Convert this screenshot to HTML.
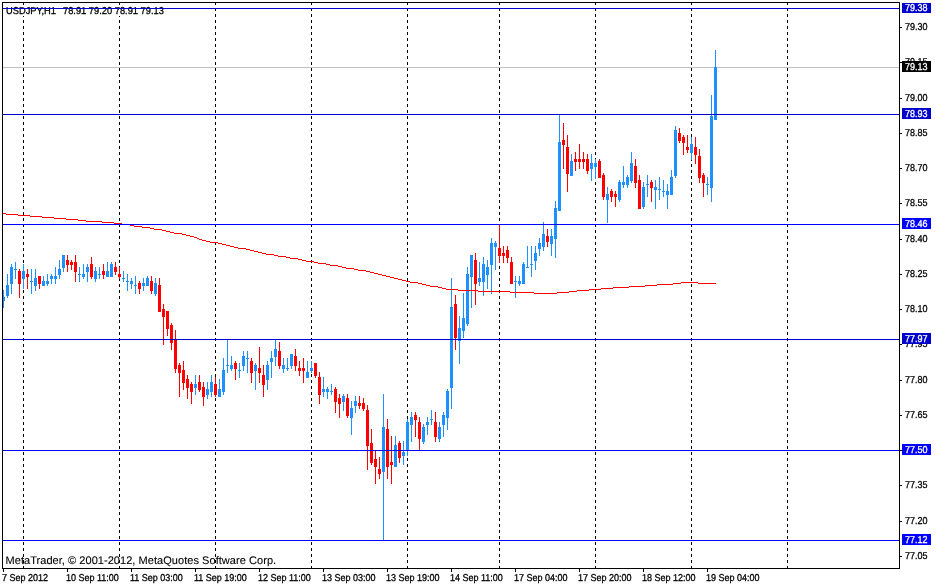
<!DOCTYPE html>
<html><head><meta charset="utf-8"><title>USDJPY H1</title>
<style>
html,body{margin:0;padding:0;background:#fff;}
body{width:937px;height:585px;position:relative;overflow:hidden;font-family:"Liberation Sans",sans-serif;color:#000;text-rendering:geometricPrecision;-webkit-text-stroke:0.3px currentColor;}
svg{position:absolute;left:0;top:0;}
.t{position:absolute;white-space:nowrap;}
.title{left:6.4px;top:5px;height:11px;overflow:hidden;background:#fff;font-size:10px;line-height:14px;transform-origin:0 0;transform:scaleX(0.93);}
.copy{left:5.5px;top:554px;font-size:11px;line-height:14px;letter-spacing:0.05px;-webkit-text-stroke:0.1px currentColor;}
.pl{position:absolute;left:904.5px;font-size:10px;line-height:13px;white-space:nowrap;transform-origin:0 0;transform:scaleX(0.9);}
.tl{position:absolute;top:572px;font-size:10px;line-height:13px;white-space:nowrap;transform-origin:0 0;transform:scaleX(0.9);}
.bx{position:absolute;left:902px;width:29px;}
.w{color:#fff;}
</style></head><body>
<svg width="937" height="585" viewBox="0 0 937 585" shape-rendering="crispEdges">
<path d="M23.5 2V568 M119.5 2V568 M215.5 2V568 M311.5 2V568 M407.5 2V568 M499.5 2V568 M595.5 2V568 M691.5 2V568 M787.5 2V568" stroke="#000" stroke-width="1" stroke-dasharray="3 3" fill="none"/>
<rect x="3" y="67" width="896" height="1" fill="#C0C0C0"/>
<path d="M3 290h1V308h-1z M2 297h3V301h-3z M7 274h1V298h-1z M6 285h3V296h-3z M11 264h1V294h-1z M10 267h3V284h-3z M15 262h1V279h-1z M14 269h3V270h-3z M23 264h1V289h-1z M22 271h3V279h-3z M31 269h1V294h-1z M30 281h3V282h-3z M35 269h1V291h-1z M34 278h3V286h-3z M43 276h1V286h-1z M42 281h3V286h-3z M47 274h1V286h-1z M46 281h3V284h-3z M51 274h1V284h-1z M50 276h3V279h-3z M55 267h1V284h-1z M54 276h3V279h-3z M59 260h1V279h-1z M58 269h3V275h-3z M63 255h1V272h-1z M62 255h3V268h-3z M79 267h1V282h-1z M78 274h3V275h-3z M83 264h1V279h-1z M82 274h3V277h-3z M87 264h1V282h-1z M86 267h3V272h-3z M95 267h1V282h-1z M94 271h3V279h-3z M99 267h1V279h-1z M98 274h3V275h-3z M107 262h1V277h-1z M106 271h3V277h-3z M111 262h1V277h-1z M110 264h3V277h-3z M123 271h1V282h-1z M122 278h3V279h-3z M127 274h1V291h-1z M126 281h3V282h-3z M131 278h1V289h-1z M130 281h3V284h-3z M135 276h1V294h-1z M134 285h3V286h-3z M143 278h1V291h-1z M142 283h3V286h-3z M147 276h1V286h-1z M146 278h3V286h-3z M155 278h1V296h-1z M154 283h3V294h-3z M195 375h1V395h-1z M194 384h3V388h-3z M207 382h1V399h-1z M206 389h3V395h-3z M211 375h1V397h-1z M210 382h3V392h-3z M219 379h1V397h-1z M218 389h3V397h-3z M223 358h1V395h-1z M222 370h3V392h-3z M227 340h1V373h-1z M226 365h3V366h-3z M231 356h1V371h-1z M230 365h3V369h-3z M239 363h1V378h-1z M238 370h3V371h-3z M243 351h1V371h-1z M242 356h3V366h-3z M247 351h1V373h-1z M246 358h3V359h-3z M255 363h1V390h-1z M254 365h3V371h-3z M267 361h1V390h-1z M266 365h3V380h-3z M271 351h1V378h-1z M270 358h3V362h-3z M275 340h1V366h-1z M274 349h3V357h-3z M283 358h1V373h-1z M282 365h3V369h-3z M287 358h1V371h-1z M286 368h3V369h-3z M291 354h1V369h-1z M290 354h3V366h-3z M307 361h1V378h-1z M306 372h3V378h-3z M311 361h1V373h-1z M310 368h3V371h-3z M323 377h1V397h-1z M322 389h3V392h-3z M327 387h1V399h-1z M326 389h3V392h-3z M331 384h1V395h-1z M330 391h3V392h-3z M343 394h1V411h-1z M342 396h3V402h-3z M351 401h1V435h-1z M350 408h3V418h-3z M355 396h1V413h-1z M354 401h3V406h-3z M383 394h1V541h-1z M382 427h3V472h-3z M395 436h1V467h-1z M394 445h3V467h-3z M403 441h1V465h-1z M402 452h3V456h-3z M407 419h1V456h-1z M406 422h3V451h-3z M411 412h1V442h-1z M410 417h3V425h-3z M423 424h1V444h-1z M422 427h3V442h-3z M427 417h1V435h-1z M426 422h3V425h-3z M431 410h1V425h-1z M430 419h3V420h-3z M439 422h1V442h-1z M438 427h3V439h-3z M443 412h1V437h-1z M442 415h3V425h-3z M447 389h1V430h-1z M446 391h3V418h-3z M451 278h1V409h-1z M450 307h3V388h-3z M459 316h1V364h-1z M458 328h3V341h-3z M463 293h1V338h-1z M462 318h3V331h-3z M467 267h1V326h-1z M466 274h3V324h-3z M471 255h1V308h-1z M470 255h3V277h-3z M479 262h1V286h-1z M478 278h3V282h-3z M483 257h1V296h-1z M482 264h3V282h-3z M487 260h1V289h-1z M486 267h3V275h-3z M491 238h1V294h-1z M490 243h3V265h-3z M495 241h1V270h-1z M494 243h3V247h-3z M515 276h1V298h-1z M514 281h3V282h-3z M519 276h1V286h-1z M518 281h3V284h-3z M523 262h1V284h-1z M522 264h3V284h-3z M527 246h1V268h-1z M526 267h3V268h-3z M531 246h1V277h-1z M530 264h3V265h-3z M535 246h1V270h-1z M534 253h3V261h-3z M539 238h1V256h-1z M538 243h3V249h-3z M543 222h1V251h-1z M542 234h3V247h-3z M551 229h1V256h-1z M550 236h3V244h-3z M555 201h1V258h-1z M554 208h3V239h-3z M559 114h1V211h-1z M558 142h3V211h-3z M571 154h1V176h-1z M570 161h3V176h-3z M591 154h1V181h-1z M590 163h3V169h-3z M595 159h1V179h-1z M594 163h3V167h-3z M607 187h1V223h-1z M606 194h3V200h-3z M619 180h1V202h-1z M618 182h3V200h-3z M623 166h1V188h-1z M622 182h3V185h-3z M627 175h1V188h-1z M626 177h3V185h-3z M631 152h1V183h-1z M630 163h3V181h-3z M643 182h1V209h-1z M642 187h3V207h-3z M647 175h1V197h-1z M646 184h3V185h-3z M655 180h1V209h-1z M654 187h3V190h-3z M659 177h1V200h-1z M658 189h3V190h-3z M663 180h1V197h-1z M662 191h3V192h-3z M667 184h1V209h-1z M666 191h3V195h-3z M671 170h1V195h-1z M670 177h3V195h-3z M675 126h1V178h-1z M674 130h3V176h-3z M691 137h1V160h-1z M690 144h3V153h-3z M707 177h1V195h-1z M706 184h3V185h-3z M711 95h1V202h-1z M710 116h3V188h-3z M715 50h1V120h-1z M714 67h3V120h-3z" fill="#1E90FF"/>
<path d="M19 269h1V298h-1z M18 271h3V284h-3z M27 269h1V289h-1z M26 274h3V277h-3z M39 276h1V289h-1z M38 276h3V284h-3z M67 255h1V272h-1z M66 260h3V265h-3z M71 260h1V270h-1z M70 262h3V265h-3z M75 255h1V282h-1z M74 262h3V272h-3z M91 257h1V279h-1z M90 264h3V277h-3z M103 264h1V279h-1z M102 271h3V275h-3z M115 262h1V275h-1z M114 267h3V272h-3z M119 267h1V279h-1z M118 274h3V277h-3z M139 281h1V294h-1z M138 283h3V289h-3z M151 276h1V294h-1z M150 281h3V291h-3z M159 278h1V312h-1z M158 285h3V312h-3z M163 304h1V345h-1z M162 309h3V317h-3z M167 311h1V336h-1z M166 311h3V329h-3z M171 323h1V350h-1z M170 325h3V343h-3z M175 330h1V373h-1z M174 340h3V369h-3z M179 363h1V397h-1z M178 365h3V373h-3z M183 361h1V390h-1z M182 370h3V383h-3z M187 375h1V399h-1z M186 379h3V388h-3z M191 382h1V404h-1z M190 384h3V392h-3z M199 375h1V392h-1z M198 382h3V390h-3z M203 382h1V406h-1z M202 387h3V397h-3z M215 377h1V397h-1z M214 384h3V395h-3z M235 361h1V380h-1z M234 363h3V369h-3z M251 358h1V383h-1z M250 361h3V373h-3z M259 347h1V383h-1z M258 368h3V373h-3z M263 365h1V397h-1z M262 375h3V385h-3z M279 342h1V369h-1z M278 351h3V366h-3z M295 349h1V371h-1z M294 356h3V366h-3z M299 361h1V376h-1z M298 368h3V371h-3z M303 358h1V383h-1z M302 368h3V371h-3z M315 363h1V378h-1z M314 363h3V376h-3z M319 372h1V404h-1z M318 377h3V395h-3z M335 387h1V413h-1z M334 389h3V402h-3z M339 394h1V418h-1z M338 398h3V404h-3z M347 394h1V418h-1z M346 398h3V416h-3z M359 396h1V409h-1z M358 403h3V406h-3z M363 398h1V411h-1z M362 403h3V409h-3z M367 405h1V470h-1z M366 410h3V446h-3z M371 429h1V465h-1z M370 443h3V463h-3z M375 451h1V484h-1z M374 459h3V467h-3z M379 457h1V479h-1z M378 469h3V474h-3z M387 419h1V479h-1z M386 429h3V467h-3z M391 436h1V484h-1z M390 462h3V465h-3z M399 441h1V463h-1z M398 443h3V458h-3z M415 412h1V437h-1z M414 415h3V420h-3z M419 417h1V451h-1z M418 422h3V439h-3z M435 412h1V442h-1z M434 422h3V437h-3z M455 295h1V350h-1z M454 304h3V338h-3z M475 253h1V305h-1z M474 260h3V284h-3z M499 225h1V263h-1z M498 248h3V256h-3z M503 246h1V263h-1z M502 253h3V256h-3z M507 246h1V263h-1z M506 250h3V258h-3z M511 257h1V284h-1z M510 262h3V284h-3z M547 229h1V247h-1z M546 236h3V242h-3z M563 123h1V169h-1z M562 140h3V145h-3z M567 135h1V192h-1z M566 147h3V174h-3z M575 152h1V171h-1z M574 159h3V162h-3z M579 144h1V169h-1z M578 159h3V162h-3z M583 152h1V169h-1z M582 159h3V162h-3z M587 154h1V174h-1z M586 159h3V171h-3z M599 159h1V178h-1z M598 161h3V178h-3z M603 173h1V200h-1z M602 175h3V197h-3z M611 189h1V202h-1z M610 191h3V197h-3z M615 191h1V207h-1z M614 194h3V197h-3z M635 159h1V188h-1z M634 166h3V183h-3z M639 175h1V209h-1z M638 180h3V209h-3z M651 180h1V202h-1z M650 182h3V188h-3z M679 128h1V143h-1z M678 133h3V141h-3z M683 135h1V155h-1z M682 137h3V143h-3z M687 135h1V153h-1z M686 147h3V150h-3z M695 137h1V164h-1z M694 147h3V155h-3z M699 149h1V183h-1z M698 156h3V178h-3z M703 173h1V197h-1z M702 175h3V183h-3z" fill="#FF0000"/>
<path d="M3 213h3v1h-3zM6 214h12v1h-12zM18 215h12v1h-12zM30 216h12v1h-12zM42 217h12v1h-12zM54 218h12v1h-12zM66 219h12v1h-12zM78 220h8v1h-8zM86 221h16v1h-16zM102 222h12v1h-12zM114 223h8v1h-8zM122 224h8v1h-8zM130 225h4v1h-4zM134 226h8v1h-8zM142 227h8v1h-8zM150 228h4v1h-4zM154 229h8v1h-8zM162 230h4v1h-4zM166 231h4v1h-4zM170 232h4v1h-4zM174 233h8v1h-8zM182 234h4v1h-4zM186 235h4v1h-4zM190 236h4v1h-4zM194 237h3v1h-3zM197 238h2v1h-2zM199 239h3v1h-3zM202 240h4v1h-4zM206 241h4v1h-4zM210 242h8v1h-8zM218 243h4v1h-4zM222 244h4v1h-4zM226 245h4v1h-4zM230 246h4v1h-4zM234 247h4v1h-4zM238 248h8v1h-8zM246 249h4v1h-4zM250 250h4v1h-4zM254 251h4v1h-4zM258 252h4v1h-4zM262 253h4v1h-4zM266 254h8v1h-8zM274 255h4v1h-4zM278 256h8v1h-8zM286 257h4v1h-4zM290 258h8v1h-8zM298 259h4v1h-4zM302 260h4v1h-4zM306 261h8v1h-8zM314 262h4v1h-4zM318 263h8v1h-8zM326 264h4v1h-4zM330 265h8v1h-8zM338 266h4v1h-4zM342 267h4v1h-4zM346 268h8v1h-8zM354 269h4v1h-4zM358 270h8v1h-8zM366 271h4v1h-4zM370 272h4v1h-4zM374 273h4v1h-4zM378 274h4v1h-4zM382 275h4v1h-4zM386 276h4v1h-4zM390 277h4v1h-4zM394 278h4v1h-4zM398 279h4v1h-4zM402 280h4v1h-4zM406 281h4v1h-4zM410 282h8v1h-8zM418 283h4v1h-4zM422 284h4v1h-4zM426 285h4v1h-4zM430 286h8v1h-8zM438 287h4v1h-4zM442 288h4v1h-4zM446 289h12v1h-12zM458 290h20v1h-20zM478 291h32v1h-32zM510 292h24v1h-24zM534 293h23v1h-23zM557 292h12v1h-12zM569 291h8v1h-8zM577 290h12v1h-12zM589 289h12v1h-12zM601 288h12v1h-12zM613 287h16v1h-16zM629 286h16v1h-16zM645 285h12v1h-12zM657 284h16v1h-16zM673 283h8v1h-8zM681 282h17v1h-17zM698 283h18v1h-18z" fill="#FF0000"/>
</svg>
<div class="t title">USDJPY,H1<span style="letter-spacing:1px">&nbsp; </span>78.91 79.20 78.91 79.13</div>
<svg width="937" height="585" viewBox="0 0 937 585" shape-rendering="crispEdges">
<rect x="3" y="8" width="896" height="1" fill="#0000CD"/>
<rect x="3" y="114" width="896" height="1" fill="#0000CD"/>
<rect x="3" y="224" width="896" height="1" fill="#0000FF"/>
<rect x="3" y="339" width="896" height="1" fill="#0000CD"/>
<rect x="3" y="450" width="896" height="1" fill="#0000FF"/>
<rect x="3" y="540" width="896" height="1" fill="#0000FF"/>
<path d="M2.5 2V569 M2 2.5H900 M899.5 2V569 M2 568.5H900" stroke="#000" stroke-width="1" fill="none"/>
<path d="M900 27.5h2 M900 62.5h2 M900 98.5h2 M900 133.5h2 M900 168.5h2 M900 203.5h2 M900 239.5h2 M900 274.5h2 M900 309.5h2 M900 344.5h2 M900 380.5h2 M900 415.5h2 M900 450.5h2 M900 485.5h2 M900 521.5h2 M900 556.5h2" stroke="#000" stroke-width="1" fill="none"/>
<path d="M3.5 569v3 M67.5 569v3 M131.5 569v3 M195.5 569v3 M259.5 569v3 M323.5 569v3 M387.5 569v3 M451.5 569v3 M515.5 569v3 M579.5 569v3 M643.5 569v3 M707.5 569v3" stroke="#000" stroke-width="1" fill="none"/>
</svg>
<div class="t copy">MetaTrader, © 2001-2012, MetaQuotes Software Corp.</div>
<div class="pl" style="top:21px">79.30</div><div class="pl" style="top:56px">79.15</div><div class="pl" style="top:92px">79.00</div><div class="pl" style="top:127px">78.85</div><div class="pl" style="top:162px">78.70</div><div class="pl" style="top:197px">78.55</div><div class="pl" style="top:233px">78.40</div><div class="pl" style="top:268px">78.25</div><div class="pl" style="top:303px">78.10</div><div class="pl" style="top:338px">77.95</div><div class="pl" style="top:374px">77.80</div><div class="pl" style="top:409px">77.65</div><div class="pl" style="top:444px">77.50</div><div class="pl" style="top:479px">77.35</div><div class="pl" style="top:515px">77.20</div><div class="pl" style="top:550px">77.05</div>
<div class="bx" style="top:3px;height:10px;background:#0000CD"></div><div class="pl w" style="top:2px">79.38</div><div class="bx" style="top:108px;height:11px;background:#0000CD"></div><div class="pl w" style="top:108px">78.93</div><div class="bx" style="top:218px;height:11px;background:#0000FF"></div><div class="pl w" style="top:218px">78.46</div><div class="bx" style="top:333px;height:11px;background:#0000CD"></div><div class="pl w" style="top:333px">77.97</div><div class="bx" style="top:444px;height:11px;background:#0000FF"></div><div class="pl w" style="top:444px">77.50</div><div class="bx" style="top:534px;height:11px;background:#0000FF"></div><div class="pl w" style="top:534px">77.12</div><div class="bx" style="top:61px;height:11px;background:#000"></div><div class="pl w" style="top:61px">79.13</div>
<div class="tl" style="left:2.2px">7 Sep 2012</div><div class="tl" style="left:66.2px">10 Sep 11:00</div><div class="tl" style="left:130.2px">11 Sep 03:00</div><div class="tl" style="left:194.2px">11 Sep 19:00</div><div class="tl" style="left:258.2px">12 Sep 11:00</div><div class="tl" style="left:322.2px">13 Sep 03:00</div><div class="tl" style="left:386.2px">13 Sep 19:00</div><div class="tl" style="left:450.2px">14 Sep 11:00</div><div class="tl" style="left:514.2px">17 Sep 04:00</div><div class="tl" style="left:578.2px">17 Sep 20:00</div><div class="tl" style="left:642.2px">18 Sep 12:00</div><div class="tl" style="left:706.2px">19 Sep 04:00</div>
</body></html>
